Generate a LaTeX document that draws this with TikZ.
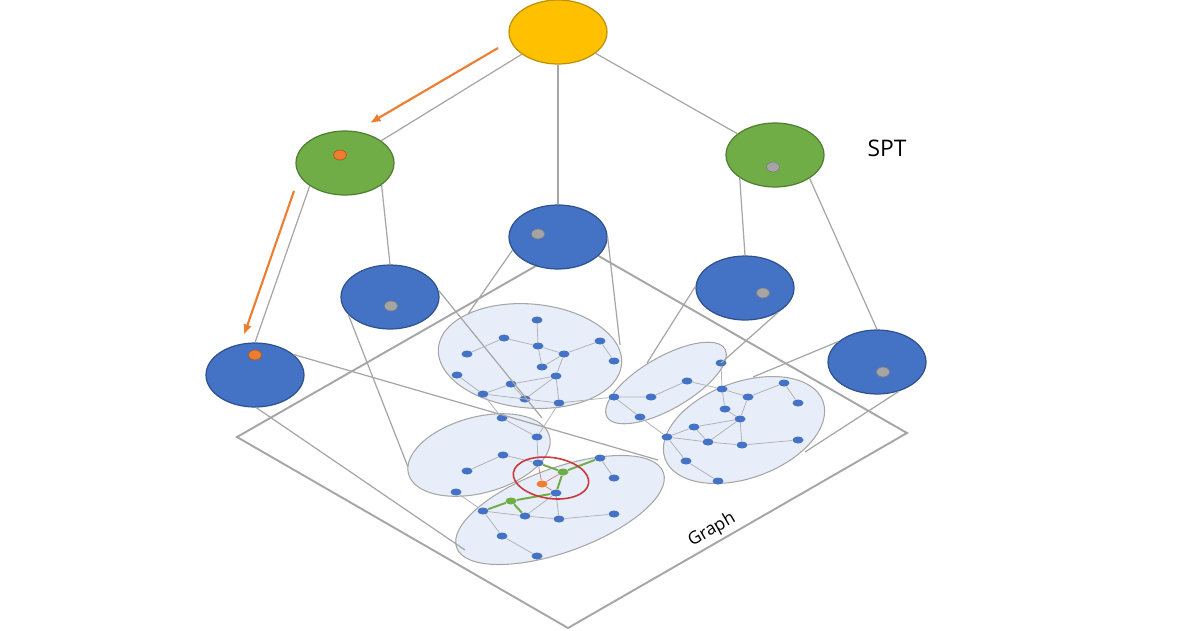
\documentclass[tikz,border=0pt]{standalone}
\usepackage{fontspec}
\setmainfont{Open Sans}
\usetikzlibrary{
arrows.meta,
positioning,
shapes.geometric,
backgrounds
}
\definecolor{sptblue}{HTML}{4472C4}
\definecolor{sptblueedge}{HTML}{2F528F}
\definecolor{sptgreen}{HTML}{70AD47}
\definecolor{sptgreenedge}{HTML}{507E32}
\definecolor{rootyellow}{HTML}{FFC000}
\definecolor{rootedge}{HTML}{BF9000}
\definecolor{hoporange}{HTML}{ED7D31}
\definecolor{hopedge}{HTML}{AE5A21}
\definecolor{dotgray}{HTML}{A5A5A5}
\definecolor{dotgrayedge}{HTML}{7F7F7F}
\definecolor{linegray}{HTML}{A6A6A6}
\definecolor{clusterfill}{HTML}{E8EEF9}
\definecolor{ringred}{HTML}{C9383A}

\begin{document}
\begin{tikzpicture}[
x=0.02cm, y=-0.02cm,
spt/.style={
ellipse,
line width=0.7pt,
minimum width=1.96cm,
minimum height=1.28cm,
inner sep=0pt
},
rootnode/.style={spt, draw=rootedge, fill=rootyellow},
greennode/.style={spt, draw=sptgreenedge, fill=sptgreen},
bluenode/.style={spt, draw=sptblueedge, fill=sptblue},
dot/.style={
ellipse,
line width=0.4pt,
minimum width=0.26cm,
minimum height=0.2cm,
inner sep=0pt
},
odot/.style={dot, draw=hopedge, fill=hoporange},
gdot/.style={dot, draw=dotgrayedge, fill=dotgray},
vtx/.style={
ellipse,
fill=sptblue,
minimum width=0.22cm,
minimum height=0.14cm,
inner sep=0pt
},
gvtx/.style={vtx, fill=sptgreen},
ovtx/.style={vtx, fill=hoporange},
tree/.style={draw=linegray, line width=0.7pt},
link/.style={draw=linegray, line width=0.7pt},
edge/.style={draw=linegray!85, line width=0.45pt},
greenedge/.style={draw=sptgreen, line width=1.1pt},
rededge/.style={draw=ringred!70, line width=0.4pt},
cluster/.style={draw=linegray, fill=clusterfill, line width=0.6pt},
plane/.style={draw=linegray, line width=1.1pt},
hop/.style={-{Latex[length=6pt,width=5pt]}, draw=hoporange, line width=1.2pt}
]
\useasboundingbox (0,0) rectangle (1200,630);

% SPT
\node[rootnode] (root) at (558,32) {};
\node[greennode] (grL) at (345,163) {};
\node[greennode] (grR) at (775,155) {};
\node[bluenode] (blC) at (558,237) {};
\node[bluenode] (blM) at (390,297) {};
\node[bluenode] (blL) at (255,375) {};
\node[bluenode] (blR1) at (745,288) {};
\node[bluenode] (blR2) at (877,362) {};

\node[odot] (grLdot) at (340,155) {};
\node[gdot] (grRdot) at (773,167) {};
\node[gdot] (blCdot) at (538,234) {};
\node[gdot] (blMdot) at (391,306) {};
\node[odot] (blLdot) at (255,355) {};
\node[gdot] (blR1dot) at (763,293) {};
\node[gdot] (blR2dot) at (883,372) {};

\node[font=\fontsize{13}{15}\selectfont] (spt) at (887,148) {SPT};

\draw[tree] (root) -- (grL);
\draw[tree] (root) -- (blC);
\draw[tree] (root) -- (grR);
\draw[tree] (grL.213) -- (blL.north);
\draw[tree] (grL.329) -- (blM.north);
\draw[tree] (grR.213) -- (blR1.north);
\draw[tree] (grR.326) -- (blR2.north);

% graph vertices
\node[vtx] (a1) at (537,320) {};
\node[vtx] (a2) at (504,338) {};
\node[vtx] (a3) at (467,354) {};
\node[vtx] (a4) at (538,346) {};
\node[vtx] (a5) at (564,354) {};
\node[vtx] (a6) at (600,341) {};
\node[vtx] (a7) at (614,361) {};
\node[vtx] (a8) at (542,367) {};
\node[vtx] (a9) at (556,376) {};
\node[vtx] (a10) at (457,375) {};
\node[vtx] (a11) at (511,384) {};
\node[vtx] (a12) at (483,394) {};
\node[vtx] (a13) at (525,399) {};
\node[vtx] (a14) at (559,403) {};

\node[vtx] (b1) at (502,418) {};
\node[vtx] (b2) at (537,437) {};
\node[vtx] (b3) at (503,455) {};
\node[vtx] (b4) at (467,471) {};
\node[vtx] (b5) at (456,492) {};
\node[vtx] (b6) at (538,463) {};

\node[gvtx] (g1) at (563,472) {};
\node[ovtx] (src) at (542,484) {};
\node[gvtx] (g2) at (511,501) {};

\node[vtx] (c1) at (483,511) {};
\node[vtx] (c2) at (556,493) {};
\node[vtx] (c3) at (600,458) {};
\node[vtx] (c4) at (525,516) {};
\node[vtx] (c5) at (559,519) {};
\node[vtx] (c6) at (614,514) {};
\node[vtx] (c7) at (502,536) {};
\node[vtx] (c8) at (537,556) {};
\node[vtx] (c9) at (614,478) {};

\node[vtx] (d1) at (721,363) {};
\node[vtx] (d2) at (687,381) {};
\node[vtx] (d3) at (651,397) {};
\node[vtx] (d4) at (614,397) {};
\node[vtx] (d5) at (640,417) {};

\node[vtx] (e1) at (722,389) {};
\node[vtx] (e2) at (748,397) {};
\node[vtx] (e3) at (784,383) {};
\node[vtx] (e4) at (798,403) {};
\node[vtx] (e5) at (725,409) {};
\node[vtx] (e6) at (740,419) {};
\node[vtx] (e7) at (694,427) {};
\node[vtx] (e8) at (667,437) {};
\node[vtx] (e9) at (708,442) {};
\node[vtx] (e10) at (742,445) {};
\node[vtx] (e11) at (798,440) {};
\node[vtx] (e12) at (686,461) {};
\node[vtx] (e13) at (718,481) {};

% SPT to graph
\coordinate (lkC1) at (468,314);
\coordinate (lkC2) at (620,345);
\coordinate (lkM1) at (408,467);
\coordinate (lkM2) at (542,418);
\coordinate (lkL1) at (658,460);
\coordinate (lkL2) at (465,550);
\coordinate (lkR1) at (647,363);
\coordinate (lkR2) at (721,363);
\coordinate (lkS1) at (753,377);
\coordinate (lkS2) at (805,452);

\draw[link] (blC.196) -- (lkC1);
\draw[link] (blC.east) -- (lkC2);
\draw[link] (blM.203) -- (lkM1);
\draw[link] (blM.8) -- (lkM2);
\draw[link] (blL.28) -- (lkL1);
\draw[link] (blL.272) -- (lkL2);
\draw[link] (blR1.178) -- (lkR1);
\draw[link] (blR1.324) -- (lkR2);
\draw[link] (blR2.152) -- (lkS1);
\draw[link] (blR2.307) -- (lkS2);

% graph edges
\draw[edge] (a1) -- (a4) (a2) -- (a3) (a2) -- (a4) (a4) -- (a5)
(a4) -- (a8) (a5) -- (a6) (a6) -- (a7) (a5) -- (a8) (a5) -- (a9)
(a9) -- (a11) (a9) -- (a13) (a9) -- (a14) (a10) -- (a12)
(a12) -- (a11) (a11) -- (a13) (a12) -- (a14);
\draw[edge] (a12) -- (b1) (a14) -- (b2) (a14) -- (d4)
(b1) -- (b2) (b2) -- (b6) (b3) -- (b4) (b3) -- (b6) (b5) -- (c1);
\draw[edge] (c1) -- (c4) (c4) -- (c2) (c4) -- (c5) (c2) -- (c5)
(c5) -- (c6) (c1) -- (c7) (c7) -- (c8) (c3) -- (c9);
\draw[edge] (d2) -- (d3) (d3) -- (d4) (d4) -- (d5) (d1) -- (e1)
(d2) -- (e1) (d5) -- (e8);
\draw[edge] (e1) -- (e2) (e1) -- (e5) (e2) -- (e3) (e3) -- (e4)
(e2) -- (e6) (e5) -- (e6) (e6) -- (e7) (e6) -- (e9) (e6) -- (e10)
(e7) -- (e8) (e7) -- (e9) (e8) -- (e9) (e9) -- (e10) (e10) -- (e11)
(e8) -- (e12) (e12) -- (e13);
\draw[greenedge] (b6) -- (g1) (g1) -- (c3) (g1) -- (c2)
(c2) -- (g2) (g2) -- (c1) (g2) -- (c4);
\draw[rededge] (src) -- (b6) (src) -- (g1) (src) -- (c2);
\draw[draw=ringred, line width=0.9pt, rotate around={-8:(551,478)}]
(551,478) ellipse [x radius=0.76cm, y radius=0.41cm];

% hops
\coordinate (hop1s) at (498,48);
\coordinate (hop1e) at (370,123);
\coordinate (hop2s) at (294,191);
\coordinate (hop2e) at (244,335);
\draw[hop] (hop1s) -- (hop1e);
\draw[hop] (hop2s) -- (hop2e);

\node[font=\fontsize{10}{12}\selectfont, rotate=30] (graph) at (712,530) {Graph};

\begin{scope}[on background layer]
\coordinate (pl1) at (237,437);
\coordinate (pl2) at (576,243);
\coordinate (pl3) at (907,433);
\coordinate (pl4) at (568,628);
\draw[plane] (pl1) -- (pl2) -- (pl3) -- (pl4) -- cycle;
\draw[cluster, rotate around={-5:(530,356)}] (530,356) ellipse [x radius=1.84cm, y radius=1.04cm];
\draw[cluster, rotate around={15:(479,455)}] (479,455) ellipse [x radius=1.46cm, y radius=0.76cm];
\draw[cluster, rotate around={20:(560,510)}] (560,510) ellipse [x radius=2.2cm, y radius=0.84cm];
\draw[cluster, rotate around={30:(666,383)}] (666,383) ellipse [x radius=1.36cm, y radius=0.52cm];
\draw[cluster, rotate around={20:(744,430)}] (744,430) ellipse [x radius=1.68cm, y radius=0.96cm];
\end{scope}

\end{tikzpicture}
\end{document}
